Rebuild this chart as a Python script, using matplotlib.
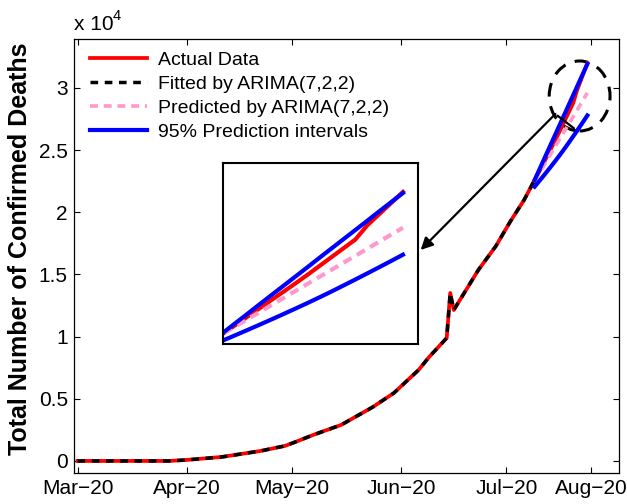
import numpy as np
import matplotlib
matplotlib.use('Agg')
import matplotlib.pyplot as plt
from matplotlib.patches import Ellipse

plt.rcParams['font.family'] = ['Liberation Sans', 'DejaVu Sans']

# day index (1 = first day of Mar-20) and cumulative deaths
fit_days = [1, 27, 32, 42, 53, 60, 63, 68, 76, 85, 91, 98, 101, 106, 107, 108,
            115, 120, 124, 128, 131]
actual_fit = [0, 0, 80, 320, 800, 1210, 1530, 2090, 2900, 4340, 5470, 7320,
              8360, 9890, 13510, 12140, 15360, 17290, 19220, 20990, 22600]
fitted = [0, 0, 80, 320, 800, 1210, 1530, 2090, 2900, 4340, 5470, 7320,
          8360, 9890, 13510, 12140, 15360, 17290, 19220, 20990, 22600]

pred_days = list(range(131, 147))
actual_pred = [22530, 23090, 23650, 24200, 24760, 25310, 25870, 26440,
               27030, 27620, 28210, 28800, 29750, 30500, 31250, 32000]
predicted = [22530, 23000, 23470, 23940, 24410, 24890, 25360, 25830,
             26300, 26770, 27240, 27710, 28180, 28660, 29130, 29600]
upper_pi = [22600, 23220, 23840, 24470, 25090, 25710, 26330, 26950,
            27580, 28200, 28820, 29440, 30060, 30690, 31310, 31930]
lower_pi = [22060, 22400, 22745, 23095, 23450, 23810, 24175, 24545,
            24925, 25315, 25715, 26120, 26530, 26945, 27365, 27790]

tick_days = [1, 32, 62, 93, 123, 147]
tick_labels = ['Mar\u221220', 'Apr\u221220', 'May\u221220', 'Jun\u221220',
               'Jul\u221220', 'Aug\u221220']
y_ticks = [0, 5000, 10000, 15000, 20000, 25000, 30000]
y_labels = ['0', '0.5', '1', '1.5', '2', '2.5', '3']

RED = '#ff0000'
PINK = '#ff99cc'
BLUE = '#0000ff'

fig = plt.figure(figsize=(6.27, 5.04), dpi=100)
ax = fig.add_axes([74 / 627, 1 - 473 / 504, 545 / 627, 434 / 504])

# actual data = fit period + prediction period
act_x = fit_days + pred_days[1:]
act_y = actual_fit + actual_pred[1:]
ax.plot(act_x, act_y, color=RED, lw=2.7, label='Actual Data')
ax.plot(fit_days, fitted, color='black', lw=2.5, dashes=(2.2, 1.9),
        label='Fitted by ARIMA(7,2,2)')
ax.plot(pred_days, predicted, color=PINK, lw=2.6, dashes=(2.2, 1.6),
        label='Predicted by ARIMA(7,2,2)')
ax.plot(pred_days, upper_pi, color=BLUE, lw=3, label='95% Prediction intervals')
ax.plot(pred_days, lower_pi, color=BLUE, lw=3)

ax.set_xlim(0, 155)
ax.set_ylim(-970, 33940)
ax.set_xticks(tick_days)
ax.set_xticklabels(tick_labels)
ax.set_yticks(y_ticks)
ax.set_yticklabels(y_labels)
ax.tick_params(direction='in', top=True, right=True, length=4, width=0.8,
               labelsize=15, pad=4.5)
for s in ax.spines.values():
    s.set_linewidth(0.9)

fig.text(20 / 627, 1 - 248.5 / 504, 'Total Number of Confirmed Deaths',
         rotation=90, ha='center', va='center', fontsize=18, fontweight='bold')
ax.text(0.0, 1.012, 'x 10', transform=ax.transAxes, fontsize=15,
        ha='left', va='bottom')
ax.text(0.071, 1.036, '4', transform=ax.transAxes, fontsize=10.5,
        ha='left', va='bottom')

ax.legend(loc='upper left', bbox_to_anchor=(0.016, 0.989), frameon=False,
          fontsize=14, handlelength=2.9, handletextpad=0.55,
          labelspacing=0.33, borderaxespad=0)

# dashed circle around the prediction region
ax.add_patch(Ellipse((143.8, 29357), 17.3, 5630, fill=False, ec='black',
                     lw=2.2, ls=(0, (4.5, 3.2))))
ax.annotate('', xy=(142.8, 26620), xytext=(136.9, 27910),
            arrowprops=dict(arrowstyle='-', color='black', lw=1.6))
ax.annotate('', xy=(98.6, 16970), xytext=(136.9, 27910),
            arrowprops=dict(arrowstyle='-|>', color='black', lw=1.6,
                            mutation_scale=18, shrinkA=0, shrinkB=0))

# zoomed inset
ins = fig.add_axes([223 / 627, 1 - 344 / 504, 195 / 627, 181 / 504])
ins.plot(pred_days, actual_pred, color=RED, lw=3)
ins.plot(pred_days, predicted, color=PINK, lw=3, dashes=(2.2, 1.5))
ins.plot(pred_days, upper_pi, color=BLUE, lw=3)
ins.plot(pred_days, lower_pi, color=BLUE, lw=3)
ins.set_xlim(130.92, 147.26)
ins.set_ylim(21795, 33943)
ins.set_xticks([])
ins.set_yticks([])
for s in ins.spines.values():
    s.set_linewidth(1.5)

fig.savefig('out.png', dpi=100)
